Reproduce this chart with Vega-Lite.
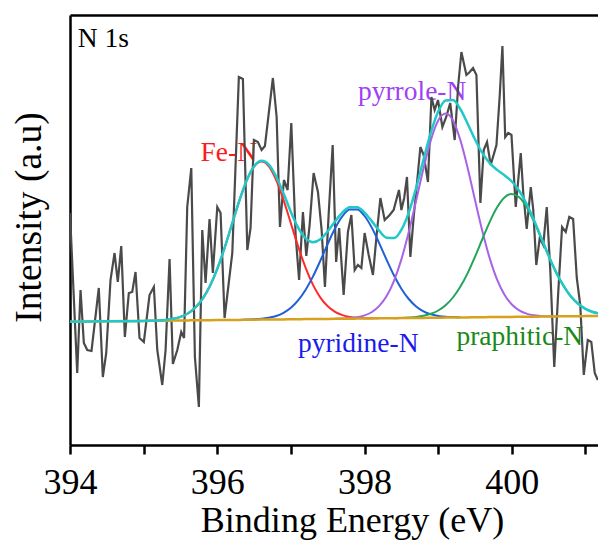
{
  "$schema": "https://vega.github.io/schema/vega-lite/v6.json",
  "autosize": {"type": "none"},
  "padding": {"left": 70, "top": 15, "right": 0, "bottom": 99},
  "width": 528,
  "height": 430,
  "background": "white",
  "config": {"view": {"stroke": null}, "font": "Liberation Serif",
    "axis": {"labelFont": "Liberation Serif", "titleFont": "Liberation Serif"},
    "text": {"font": "Liberation Serif"}},
  "datasets": {
    "spectrum": [
      {"E":394.000,"v":232},{"E":394.098,"v":72},{"E":394.143,"v":155},{"E":394.188,"v":102},{"E":394.234,"v":95},
      {"E":394.292,"v":94},{"E":394.391,"v":157},{"E":394.446,"v":68},{"E":394.492,"v":92},{"E":394.550,"v":165},
      {"E":394.605,"v":192},{"E":394.649,"v":163},{"E":394.696,"v":199},{"E":394.745,"v":108},{"E":394.799,"v":152},
      {"E":394.845,"v":153},{"E":394.890,"v":173},{"E":394.944,"v":107},{"E":395.003,"v":103},{"E":395.080,"v":150},
      {"E":395.139,"v":158},{"E":395.185,"v":95},{"E":395.253,"v":60},{"E":395.298,"v":95},{"E":395.352,"v":186},
      {"E":395.397,"v":81},{"E":395.457,"v":95},{"E":395.511,"v":113},{"E":395.549,"v":107},{"E":395.592,"v":238},
      {"E":395.647,"v":277},{"E":395.696,"v":88},{"E":395.750,"v":38},{"E":395.796,"v":215},{"E":395.841,"v":162},
      {"E":395.895,"v":226},{"E":395.940,"v":172},{"E":396.000,"v":238},{"E":396.045,"v":232},{"E":396.099,"v":127},
      {"E":396.149,"v":158},{"E":396.204,"v":192},{"E":396.293,"v":368},{"E":396.348,"v":366},{"E":396.408,"v":195},
      {"E":396.452,"v":217},{"E":396.497,"v":305},{"E":396.552,"v":303},{"E":396.602,"v":295},{"E":396.647,"v":299},
      {"E":396.755,"v":367},{"E":396.806,"v":328},{"E":396.851,"v":218},{"E":396.905,"v":265},{"E":396.955,"v":255},
      {"E":397.005,"v":322},{"E":397.064,"v":210},{"E":397.111,"v":165},{"E":397.163,"v":233},{"E":397.209,"v":189},
      {"E":397.254,"v":220},{"E":397.308,"v":272},{"E":397.367,"v":253},{"E":397.417,"v":215},{"E":397.462,"v":158},
      {"E":397.512,"v":230},{"E":397.567,"v":300},{"E":397.614,"v":183},{"E":397.655,"v":217},{"E":397.716,"v":150},
      {"E":397.774,"v":213},{"E":397.821,"v":230},{"E":397.866,"v":175},{"E":397.910,"v":180},{"E":397.957,"v":177},
      {"E":398.001,"v":212},{"E":398.056,"v":190},{"E":398.114,"v":170},{"E":398.164,"v":210},{"E":398.215,"v":247},
      {"E":398.273,"v":225},{"E":398.341,"v":230},{"E":398.395,"v":235},{"E":398.467,"v":255},{"E":398.500,"v":235},
      {"E":398.538,"v":247},{"E":398.576,"v":268},{"E":398.622,"v":188},{"E":398.667,"v":228},{"E":398.712,"v":262},
      {"E":398.758,"v":298},{"E":398.803,"v":290},{"E":398.861,"v":263},{"E":398.908,"v":348},{"E":398.952,"v":335},
      {"E":398.997,"v":345},{"E":399.057,"v":318},{"E":399.109,"v":328},{"E":399.163,"v":342},{"E":399.224,"v":305},
      {"E":399.272,"v":360},{"E":399.315,"v":393},{"E":399.383,"v":370},{"E":399.428,"v":373},{"E":399.473,"v":377},
      {"E":399.519,"v":370},{"E":399.573,"v":242},{"E":399.618,"v":295},{"E":399.663,"v":303},{"E":399.713,"v":280},
      {"E":399.791,"v":300},{"E":399.836,"v":350},{"E":399.872,"v":399},{"E":399.910,"v":308},{"E":399.951,"v":312},
      {"E":399.995,"v":310},{"E":400.053,"v":238},{"E":400.121,"v":292},{"E":400.155,"v":252},{"E":400.202,"v":216},
      {"E":400.257,"v":258},{"E":400.291,"v":235},{"E":400.332,"v":180},{"E":400.379,"v":207},{"E":400.427,"v":200},
      {"E":400.474,"v":238},{"E":400.522,"v":175},{"E":400.576,"v":78},{"E":400.628,"v":150},{"E":400.682,"v":218},
      {"E":400.732,"v":213},{"E":400.780,"v":228},{"E":400.832,"v":226},{"E":400.882,"v":167},{"E":400.929,"v":140},
      {"E":400.977,"v":70},{"E":401.031,"v":105},{"E":401.079,"v":103},{"E":401.126,"v":72},{"E":401.167,"v":65}
    ],
    "fit": [
      {"E":394.0,"base":123.3,"env":123.3},
      {"E":394.5,"base":123.7,"env":123.7},
      {"E":395.0,"base":124.1,"env":124.1,"fe":124.1},
      {"E":395.1,"base":124.2,"env":124.3,"fe":124.3},
      {"E":395.2,"base":124.3,"env":124.6,"fe":124.6},
      {"E":395.3,"base":124.3,"env":125.1,"fe":125.1},
      {"E":395.4,"base":124.4,"env":126.2,"fe":126.2},
      {"E":395.5,"base":124.5,"env":128.1,"fe":128.1},
      {"E":395.6,"base":124.6,"env":131.5,"fe":131.5},
      {"E":395.7,"base":124.7,"env":137.3,"fe":137.3},
      {"E":395.8,"base":124.7,"env":146.1,"fe":146.1},
      {"E":395.9,"base":124.8,"env":159.0,"fe":159.0},
      {"E":396.0,"base":124.9,"env":176.2,"fe":176.2},
      {"E":396.1,"base":125.0,"env":197.3,"fe":197.3},
      {"E":396.2,"base":125.1,"env":220.9,"fe":220.9},
      {"E":396.3,"base":125.1,"env":244.4,"fe":244.4,"pyd":125.1},
      {"E":396.4,"base":125.2,"env":264.8,"fe":264.6,"pyd":125.4},
      {"E":396.5,"base":125.3,"env":278.8,"fe":278.4,"pyd":125.7},
      {"E":396.6,"base":125.4,"env":284.2,"fe":283.4,"pyd":126.2},
      {"E":396.7,"base":125.5,"env":280.4,"fe":278.6,"pyd":127.3},
      {"E":396.8,"base":125.5,"env":268.4,"fe":264.9,"pyd":129.0},
      {"E":396.9,"base":125.6,"env":251.5,"fe":244.9,"pyd":132.2},
      {"E":397.0,"base":125.7,"env":233.0,"fe":221.5,"pyd":137.2},
      {"E":397.1,"base":125.8,"env":217.1,"fe":198.1,"pyd":144.8},
      {"E":397.2,"base":125.9,"env":206.6,"fe":177.2,"pyd":155.3},
      {"E":397.3,"base":125.9,"env":202.8,"fe":160.1,"pyd":168.6},
      {"E":397.4,"base":126.0,"env":205.8,"fe":147.4,"pyd":184.4},
      {"E":397.5,"base":126.1,"env":213.7,"fe":138.7,"pyd":201.1},
      {"E":397.6,"base":126.2,"env":223.6,"fe":133.1,"pyd":216.7,"pyr":126.2},
      {"E":397.7,"base":126.3,"env":232.6,"fe":129.9,"pyd":228.8,"pyr":126.5},
      {"E":397.8,"base":126.3,"env":237.8,"fe":128.1,"pyd":235.4,"pyr":126.9},
      {"E":397.9,"base":126.4,"env":237.7,"fe":127.2,"pyd":235.5,"pyr":127.8},
      {"E":398.0,"base":126.5,"env":232.4,"fe":126.8,"pyd":229.0,"pyr":129.6},
      {"E":398.1,"base":126.6,"env":223.6,"fe":126.7,"pyd":217.1,"pyr":133.0},
      {"E":398.2,"base":126.7,"env":214.1,"fe":126.7,"pyd":201.7,"pyr":139.1},
      {"E":398.3,"base":126.7,"env":207.3,"pyd":185.1,"pyr":148.9},
      {"E":398.4,"base":126.8,"env":206.9,"pyd":169.5,"pyr":164.2,"gra":126.8},
      {"E":398.5,"base":126.9,"env":215.2,"pyd":156.3,"pyr":185.6,"gra":127.1},
      {"E":398.6,"base":127.0,"env":232.4,"pyd":146.0,"pyr":212.9,"gra":127.5},
      {"E":398.7,"base":127.1,"env":256.8,"pyd":138.6,"pyr":244.3,"gra":128.1},
      {"E":398.8,"base":127.1,"env":285.2,"pyd":133.7,"pyr":276.5,"gra":129.2},
      {"E":398.9,"base":127.2,"env":312.3,"pyd":130.7,"pyr":304.8,"gra":131.2},
      {"E":399.0,"base":127.3,"env":333.4,"pyd":129.1,"pyr":324.4,"gra":134.5},
      {"E":399.1,"base":127.4,"env":344.6,"pyd":128.2,"pyr":331.4,"gra":139.8},
      {"E":399.2,"base":127.5,"env":345.0,"pyd":127.9,"pyr":324.6,"gra":147.5},
      {"E":399.3,"base":127.5,"env":336.0,"pyd":127.7,"pyr":305.1,"gra":158.2},
      {"E":399.4,"base":127.6,"env":321.3,"pyr":277.0,"gra":171.9},
      {"E":399.5,"base":127.7,"env":305.5,"pyr":244.9,"gra":188.3},
      {"E":399.6,"base":127.8,"env":291.9,"pyr":213.7,"gra":206.0},
      {"E":399.7,"base":127.9,"env":281.9,"pyr":186.6,"gra":223.2},
      {"E":399.8,"base":127.9,"env":275.1,"pyr":165.3,"gra":237.7},
      {"E":399.9,"base":128.0,"env":269.8,"pyr":150.2,"gra":247.6},
      {"E":400.0,"base":128.1,"env":263.5,"pyr":140.5,"gra":251.1},
      {"E":400.1,"base":128.2,"env":254.2,"pyr":134.6,"gra":247.8},
      {"E":400.2,"base":128.3,"env":241.2,"pyr":131.4,"gra":238.1},
      {"E":400.3,"base":128.3,"env":225.0,"pyr":129.7,"gra":223.6},
      {"E":400.4,"base":128.4,"env":207.2,"pyr":129.0,"gra":206.6},
      {"E":400.5,"base":128.5,"env":189.3,"pyr":128.7,"gra":189.1},
      {"E":400.6,"base":128.6,"env":172.9,"pyr":128.6,"gra":172.9},
      {"E":400.7,"base":128.7,"env":159.4,"gra":159.4},
      {"E":400.8,"base":128.7,"env":148.7,"gra":148.7},
      {"E":400.9,"base":128.8,"env":141.2,"gra":141.2},
      {"E":401.0,"base":128.9,"env":136.1,"gra":136.1},
      {"E":401.1,"base":129.0,"env":133.0,"gra":133.0},
      {"E":401.2,"base":129.1,"env":131.2,"gra":131.2}
    ],
    "labels": [
      {"E":394.106,"v":398.3,"label":"N 1s"},
      {"E":395.773,"v":284,"label":"Fe-N"},
      {"E":397.910,"v":345,"label":"pyrrole-N"},
      {"E":397.095,"v":93.3,"label":"pyridine-N"},
      {"E":399.247,"v":100,"label":"praphitic-N"}
    ]
  },
  "resolve": {"axis": {"x": "independent", "y": "independent"}},
  "layer": [
    {
      "data": {"name": "labels"},
      "mark": {"type": "text", "align": "left", "baseline": "alphabetic", "font": "Liberation Serif", "fontSize": 27.5},
      "encoding": {
        "x": {"field": "E", "type": "quantitative", "scale": {"domain": [394, 401.17], "nice": false, "zero": false}, "axis": null},
        "y": {"field": "v", "type": "quantitative", "scale": {"domain": [0, 430], "nice": false, "zero": false}, "axis": null},
        "text": {"field": "label", "type": "nominal"},
        "color": {"field": "label", "type": "nominal", "legend": null,
          "scale": {"domain": ["N 1s", "Fe-N", "pyrrole-N", "pyridine-N", "praphitic-N"],
                    "range": ["#000000", "#ff1a1a", "#a040f5", "#1a1aee", "#178a17"]}}
      }
    },
    {
      "data": {"name": "spectrum"},
      "mark": {"type": "line", "color": "#4a4a4a", "strokeWidth": 2.2, "clip": true},
      "encoding": {
        "x": {"field": "E", "type": "quantitative", "scale": {"domain": [394, 401.17], "nice": false, "zero": false},
          "axis": {"values": [394, 395, 396, 397, 398, 399, 400, 401],
            "labelExpr": "datum.value % 2 === 0 ? datum.label : ''",
            "grid": false, "domainColor": "#000", "domainWidth": 2.5,
            "tickColor": "#000", "tickWidth": 2.5, "tickSize": 9,
            "labelFont": "Liberation Serif", "labelFontSize": 36, "labelColor": "#000", "labelPadding": 11,
            "labelFlush": false, "labelOverlap": false,
            "title": "Binding Energy (eV)", "titleFont": "Liberation Serif", "titleFontSize": 36,
            "titleFontWeight": "normal", "titleColor": "#000", "titlePadding": 3, "titleX": 282,
            "encode": {"ticks": {"update": {"y2": {"signal": "datum.value % 2 === 0 ? 9 : 5"}}},
                       "labels": {"update": {"font": {"value": "Liberation Serif"}}}}}},
        "y": {"field": "v", "type": "quantitative", "scale": {"domain": [0, 430], "nice": false, "zero": false},
          "axis": {"labels": false, "ticks": false, "grid": false, "domainColor": "#000", "domainWidth": 2.5,
            "title": "Intensity (a.u)", "titleFont": "Liberation Serif", "titleFontSize": 37.5,
            "titleFontWeight": "normal", "titleColor": "#000", "titleX": -22, "titleY": 202,
            "titleAngle": 270, "titleBaseline": "bottom", "titleAlign": "center"}}
      }
    },
    {
      "data": {"name": "fit"},
      "mark": {"type": "line", "color": "#ff2b2b", "strokeWidth": 2, "clip": true, "interpolate": "monotone"},
      "encoding": {
        "x": {"field": "E", "type": "quantitative", "scale": {"domain": [394, 401.17], "nice": false, "zero": false}, "axis": null},
        "y": {"field": "fe", "type": "quantitative", "scale": {"domain": [0, 430], "nice": false, "zero": false}, "axis": null}
      }
    },
    {
      "data": {"name": "fit"},
      "mark": {"type": "line", "color": "#1f5fd8", "strokeWidth": 2, "clip": true, "interpolate": "monotone"},
      "encoding": {
        "x": {"field": "E", "type": "quantitative", "scale": {"domain": [394, 401.17], "nice": false, "zero": false}, "axis": null},
        "y": {"field": "pyd", "type": "quantitative", "scale": {"domain": [0, 430], "nice": false, "zero": false}, "axis": null}
      }
    },
    {
      "data": {"name": "fit"},
      "mark": {"type": "line", "color": "#a862e6", "strokeWidth": 2, "clip": true, "interpolate": "monotone"},
      "encoding": {
        "x": {"field": "E", "type": "quantitative", "scale": {"domain": [394, 401.17], "nice": false, "zero": false}, "axis": null},
        "y": {"field": "pyr", "type": "quantitative", "scale": {"domain": [0, 430], "nice": false, "zero": false}, "axis": null}
      }
    },
    {
      "data": {"name": "fit"},
      "mark": {"type": "line", "color": "#22a55a", "strokeWidth": 2, "clip": true, "interpolate": "monotone"},
      "encoding": {
        "x": {"field": "E", "type": "quantitative", "scale": {"domain": [394, 401.17], "nice": false, "zero": false}, "axis": null},
        "y": {"field": "gra", "type": "quantitative", "scale": {"domain": [0, 430], "nice": false, "zero": false}, "axis": null}
      }
    },
    {
      "data": {"name": "fit"},
      "mark": {"type": "line", "color": "#d8a11c", "strokeWidth": 2.5, "clip": true, "interpolate": "monotone"},
      "encoding": {
        "x": {"field": "E", "type": "quantitative", "scale": {"domain": [394, 401.17], "nice": false, "zero": false}, "axis": null},
        "y": {"field": "base", "type": "quantitative", "scale": {"domain": [0, 430], "nice": false, "zero": false}, "axis": null}
      }
    },
    {
      "data": {"name": "fit"},
      "mark": {"type": "line", "color": "#22c8c8", "strokeWidth": 2.5, "clip": true, "interpolate": "monotone"},
      "encoding": {
        "x": {"field": "E", "type": "quantitative", "scale": {"domain": [394, 401.17], "nice": false, "zero": false},
          "axis": {"orient": "top", "labels": false, "ticks": false, "grid": false, "title": null,
                   "domainColor": "#000", "domainWidth": 2.5}},
        "y": {"field": "env", "type": "quantitative", "scale": {"domain": [0, 430], "nice": false, "zero": false}, "axis": null}
      }
    }
  ]
}
